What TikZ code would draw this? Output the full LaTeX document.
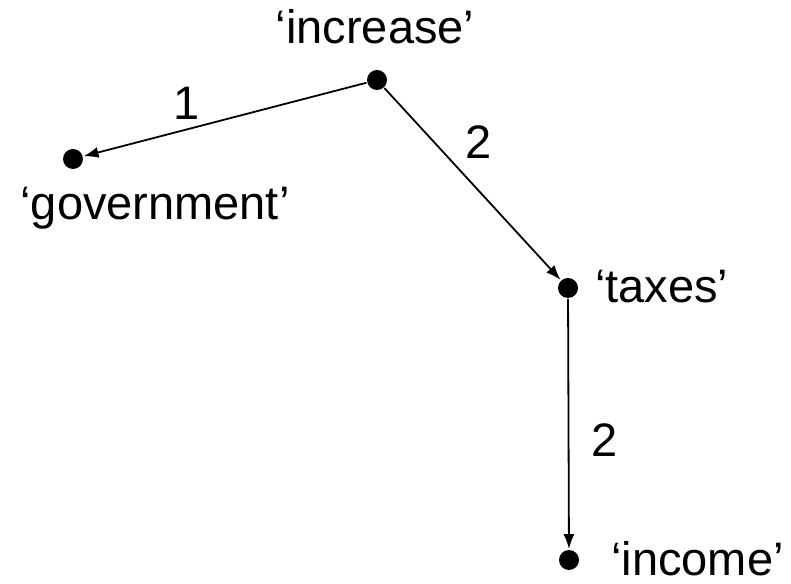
\documentclass[tikz,border=0pt]{standalone}
\usepackage{fontspec}
\setmainfont{Liberation Sans}
\usetikzlibrary{arrows.meta}

\begin{document}
\begin{tikzpicture}[>={Latex[length=15bp,width=11bp]}, line width=1.8bp]
      \tikzstyle{every node}=[font=\fontsize{47bp}{56bp}\selectfont]
      \tikzstyle{dot}=[circle,fill=black,draw=none,inner sep=0pt,minimum size=20bp]
      \useasboundingbox (0bp,0bp) rectangle (791bp,584bp);
      %%
  \node (v_inc) at (377bp,504bp) [dot] {};
  \node (v_gov) at (73bp,425bp) [dot] {};
  \node (v_tax) at (568bp,296bp) [dot] {};
  \node (v_inc2) at (569bp,24bp) [dot] {};
  \node (t_inc) at (375bp,557bp) {‘increase’};
  \node (t_gov) at (155bp,376bp) {‘government’};
  \node (t_tax) at (591bp,281bp) [anchor=base west] {‘taxes’};
  \node (t_inc2) at (607bp,9bp) [anchor=base west] {‘income’};
  \node (e_1) at (187bp,481bp) {1};
  \node (e_2) at (479bp,442bp) {2};
  \node (e_3) at (605bp,144bp) {2};
  \draw [->] (v_inc) -- (v_gov);
  \draw [->] (v_inc) -- (v_tax);
  \draw [->] (v_tax) -- (v_inc2);
%
\end{tikzpicture}
\end{document}
